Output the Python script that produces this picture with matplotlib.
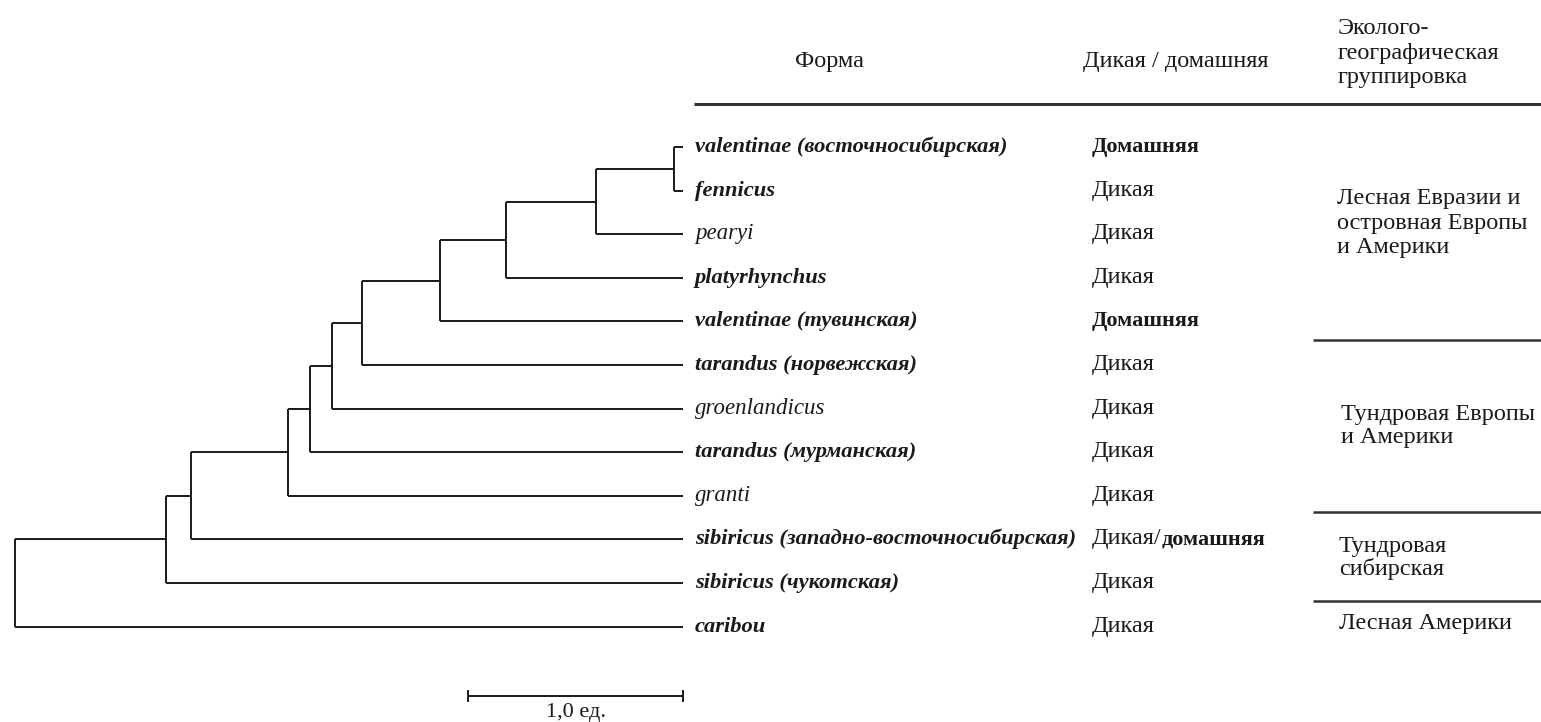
import matplotlib
matplotlib.use("Agg")
import matplotlib.pyplot as plt

plt.rcParams['font.family'] = ['Liberation Serif', 'DejaVu Serif']

# ---------------- data ----------------
leaf_names = [
    "valentinae (восточносибирская)", "fennicus", "pearyi", "platyrhynchus",
    "valentinae (тувинская)", "tarandus (норвежская)", "groenlandicus",
    "tarandus (мурманская)", "granti", "sibiricus (западно-восточносибирская)",
    "sibiricus (чукотская)", "caribou",
]
leaf_bold = [True, True, False, True, True, True, False, True, False, True, True, True]
status = ["Домашняя", "Дикая", "Дикая", "Дикая", "Домашняя", "Дикая", "Дикая",
          "Дикая", "Дикая", "Дикая/домашняя", "Дикая", "Дикая"]
leaf_depth = 3.107          # distance root -> leaves (units)
# internal nodes: (child_a, child_b) and depth from root; children are leaf indices or 'nK'
node_depth = [3.065, 2.702, 2.284, 1.977, 1.614, 1.474, 1.372, 1.270, 0.819, 0.702, 0.0]
merges = [(0, 1), ("n0", 2), ("n1", 3), ("n2", 4), ("n3", 5), ("n4", 6),
          ("n5", 7), ("n6", 8), ("n7", 9), ("n8", 10), ("n9", 11)]
groups = ["Лесная Евразии и\nостровная Европы\nи Америки", "Тундровая Европы\nи Америки",
          "Тундровая\nсибирская", "Лесная Америки"]
headers = ["Форма", "Дикая / домашняя", "Эколого-\nгеографическая\nгруппировка"]
scale_len = 1.0
scale_label = "1,0 ед."

# ---------------- layout ----------------
W, H = 1541, 722
DPI = 100
ROW0, STEP = 147.0, 43.6     # pixel y of first leaf, row spacing
X0, UNIT = 15.0, 215.0       # pixel x of root, pixels per unit

fig = plt.figure(figsize=(W / DPI, H / DPI), dpi=DPI)
ax = fig.add_axes([0, 0, 1, 1])
ax.set_xlim(-X0 / UNIT, (W - X0) / UNIT)
ax.set_ylim((H - ROW0) / STEP, -ROW0 / STEP)
ax.axis("off")

tab = fig.add_axes([0, 0, 1, 1], facecolor="none")
tab.set_xlim(0, W)
tab.set_ylim(H, 0)
tab.axis("off")

LW = 1.4
col = "#1a1a1a"

# tree
pos = {}
for i in range(len(leaf_names)):
    pos[i] = (leaf_depth, float(i))
for k, ((a, b), d) in enumerate(zip(merges, node_depth)):
    xa, ya = pos[a]
    xb, yb = pos[b]
    ax.plot([d, d], [ya, yb], color=col, lw=LW, solid_capstyle="butt")
    ax.plot([d, xa], [ya, ya], color=col, lw=LW, solid_capstyle="butt")
    ax.plot([d, xb], [yb, yb], color=col, lw=LW, solid_capstyle="butt")
    pos["n%d" % k] = (d, (ya + yb) / 2)

FS_REG = 17.5    # regular upright text
FS_BOLD = 16.0   # bold upright text
FS_BI = 16.2     # bold italic leaf labels
FS_I = 16.5      # regular italic leaf labels

# scale bar
sb_y = (696 - ROW0) / STEP
ax.plot([leaf_depth - scale_len, leaf_depth], [sb_y, sb_y], color=col, lw=LW)
tick = 5 / STEP
for xx in (leaf_depth - scale_len, leaf_depth):
    ax.plot([xx, xx], [sb_y - tick, sb_y + tick], color=col, lw=LW)
ax.text(leaf_depth - scale_len / 2, (712 - ROW0) / STEP, scale_label,
        ha="center", va="center", fontsize=16, color=col)

# leaf labels
for i, (nm, bd) in enumerate(zip(leaf_names, leaf_bold)):
    ax.text(leaf_depth + 12 / UNIT, i + 5 / STEP, nm, ha="left", va="baseline",
            fontsize=FS_BI if bd else FS_I, style="italic",
            weight="bold" if bd else "normal", color=col)

# status column
fig.canvas.draw()
xs = (1092 - X0) / UNIT
for i, s in enumerate(status):
    y = i + 5 / STEP
    if "/" in s:
        a, b = s.split("/")
        t = ax.text(xs, y, a + "/", ha="left", va="baseline", fontsize=FS_REG, color=col)
        bb = t.get_window_extent(renderer=fig.canvas.get_renderer())
        x2 = ax.transData.inverted().transform((bb.x1, 0))[0]
        ax.text(x2, y, b, ha="left", va="baseline", fontsize=FS_BOLD, weight="bold", color=col)
    elif s == "Домашняя":
        ax.text(xs, y, s, ha="left", va="baseline", fontsize=FS_BOLD, weight="bold", color=col)
    else:
        ax.text(xs, y, s, ha="left", va="baseline", fontsize=FS_REG, color=col)

# headers
tab.text(830, 62, headers[0], ha="center", va="center", fontsize=FS_REG, color=col)
tab.text(1176, 62, headers[1], ha="center", va="center", fontsize=FS_REG, color=col)
tab.text(1338, 53, headers[2], ha="left", va="center", fontsize=FS_REG, color=col,
         linespacing=1.2)
tab.plot([694, W], [104, 104], color="#333333", lw=2.2, solid_capstyle="butt")

# groups
tab.text(1337, 223, groups[0], ha="left", va="center", fontsize=FS_REG, color=col, linespacing=1.2)
tab.text(1341, 426, groups[1], ha="left", va="center", fontsize=FS_REG, color=col, linespacing=1.1)
tab.text(1339, 558, groups[2], ha="left", va="center", fontsize=FS_REG, color=col, linespacing=1.1)
tab.text(1339, 623, groups[3], ha="left", va="center", fontsize=FS_REG, color=col)
for ysep in (340, 512, 601):
    tab.plot([1313, W], [ysep, ysep], color="#333333", lw=1.8, solid_capstyle="butt")

fig.savefig("out.png", dpi=DPI)
